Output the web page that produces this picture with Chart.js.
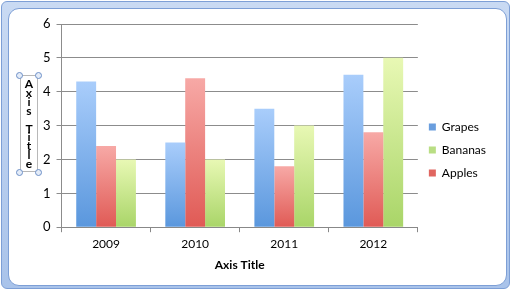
<!DOCTYPE html>
<html>
<head>
<meta charset="utf-8">
<script src="https://cdn.jsdelivr.net/npm/chart.js@4/dist/chart.umd.min.js"></script>
<style>
  html, body { margin: 0; padding: 0; background: #ffffff; }
  #wrap { position: relative; width: 513px; height: 292px; overflow: hidden; }
  #frame {
    position: absolute; left: 1px; top: 1px; width: 507px; height: 286px;
    border: 1px solid #7d9fd6; border-radius: 6px;
    background: linear-gradient(#c9daf3, #a9c3ea);
  }
  #inner {
    position: absolute; left: 8px; top: 8px; width: 497px; height: 276px;
    border: 1px solid #7d9fd6; border-radius: 11px; background: #ffffff;
  }
  #chart { position: absolute; left: 0; top: 0; }
  #ytitle {
    position: absolute; left: 20px; top: 75px; width: 18px; height: 97px;
    border: 1px solid #b8b8b8; box-sizing: border-box;
    font: bold 12px Lato, "Open Sans", sans-serif; color: #000;
    text-align: center; line-height: 8.9px; padding-top: 4px;
  }
  .h { position: absolute; width: 7px; height: 7px; border-radius: 50%;
       border: 1px solid #6c8fc7; background: #e4ecf8; box-sizing: border-box; }
</style>
</head>
<body>
<div id="wrap">
  <div id="frame"></div>
  <div id="inner"></div>
  <canvas id="chart" width="513" height="292"></canvas>
  <div id="ytitle">A<br>x<br>i<br>s<br>&nbsp;<br>T<br>i<br>t<br>l<br>e</div>
  <div class="h" style="left:16px;top:72px"></div>
  <div class="h" style="left:35px;top:72px"></div>
  <div class="h" style="left:16px;top:169px"></div>
  <div class="h" style="left:35px;top:169px"></div>
</div>
<script>
'use strict';

const years = ['2009', '2010', '2011', '2012'];
const grapes = [4.3, 2.5, 3.5, 4.5];
const apples = [2.4, 4.4, 1.8, 2.8];
const bananas = [2, 2, 3, 5];
const yTicks = [0, 1, 2, 3, 4, 5, 6];
const legendOrder = ['Grapes', 'Bananas', 'Apples'];

const FONT = 'Lato, "Open Sans", sans-serif';

// vertical gradient per bar, light at the top, darker at the base
function barFill(light, dark) {
  return ctx => {
    const chart = ctx.chart;
    if (!chart.chartArea || ctx.type !== 'data') return dark;
    const y = chart.scales.y;
    const top = y.getPixelForValue(ctx.raw);
    const base = y.getPixelForValue(0);
    const g = chart.ctx.createLinearGradient(0, top, 0, base);
    g.addColorStop(0, light);
    g.addColorStop(1, dark);
    return g;
  };
}

new Chart(document.querySelector('#chart'), {
  type: 'bar',
  data: {
    labels: years,
    datasets: [
      {label: 'Grapes', data: grapes,
       backgroundColor: barFill('#a9cdfb', '#5a97dd'), legendColor: '#6a9ede'},
      {label: 'Apples', data: apples,
       backgroundColor: barFill('#f7a9a6', '#e05a55'), legendColor: '#e06660'},
      {label: 'Bananas', data: bananas,
       backgroundColor: barFill('#e8f8b4', '#a9d568'), legendColor: '#b9de84'}
    ]
  },
  options: {
    responsive: false,
    animation: false,
    layout: {padding: {left: 37, right: 17, top: 24, bottom: 16}},
    datasets: {bar: {categoryPercentage: 0.67, barPercentage: 1.0}},
    plugins: {
      tooltip: {enabled: false},
      legend: {
        position: 'right',
        labels: {
          color: '#000',
          font: {family: FONT, size: 12},
          boxWidth: 7, boxHeight: 7, padding: 11,
          sort: (a, b) => legendOrder.indexOf(a.text) - legendOrder.indexOf(b.text),
          generateLabels: chart => chart.data.datasets.map((ds, i) => ({
            text: ds.label, fillStyle: ds.legendColor, strokeStyle: ds.legendColor,
            lineWidth: 0, datasetIndex: i, hidden: false
          }))
        }
      }
    },
    scales: {
      x: {
        grid: {offset: true, drawOnChartArea: false, color: '#888', tickLength: 5},
        border: {color: '#888'},
        ticks: {color: '#000', font: {family: FONT, size: 12}, padding: 5},
        title: {display: true, text: 'Axis Title', color: '#000',
                font: {family: FONT, size: 12, weight: 'bold'}, padding: {top: 1}}
      },
      y: {
        min: 0, max: 6,
        afterBuildTicks: axis => { axis.ticks = yTicks.map(v => ({value: v})); },
        grid: {color: '#8c8c8c', tickLength: 5},
        border: {color: '#8c8c8c'},
        ticks: {color: '#000', font: {family: FONT, size: 13}, padding: 6}
      }
    }
  }
});
</script>
</body>
</html>
